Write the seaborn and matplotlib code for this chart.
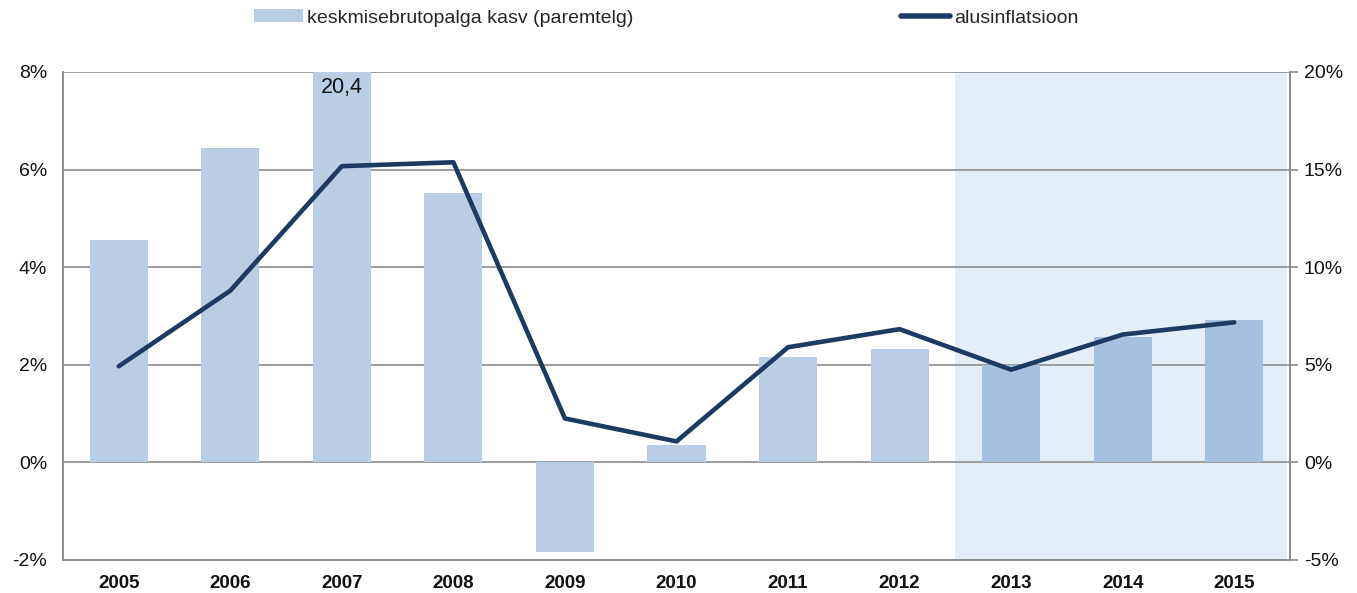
import matplotlib
matplotlib.use("Agg")
import matplotlib.pyplot as plt
import seaborn as sns
import numpy as np
import pandas as pd
from matplotlib.patches import Patch
from matplotlib.lines import Line2D
from matplotlib.ticker import FuncFormatter

years = ["2005", "2006", "2007", "2008", "2009", "2010", "2011", "2012", "2013", "2014", "2015"]
wage_growth = [11.4, 16.1, 20.4, 13.8, -4.6, 0.9, 5.4, 5.8, 5.0, 6.4, 7.3]   # right axis
core_inflation = [1.97, 3.52, 6.07, 6.15, 0.90, 0.43, 2.36, 2.73, 1.90, 2.62, 2.87]  # left axis
forecast_years = ["2013", "2014", "2015"]
bar_label = "keskmisebrutopalga kasv (paremtelg)"
line_label = "alusinflatsioon"
left_ticks = [-2, 0, 2, 4, 6, 8]
right_ticks = [-5, 0, 5, 10, 15, 20]

sns.set_theme(style="white")
plt.rcParams['font.family'] = ['Liberation Sans', 'DejaVu Sans']

bar_col = "#b9cde5"
bar_fc_col = "#a6c1e0"
line_col = "#1d3a62"
grid_col = "#8c8c8c"
txt_col = "#111111"

fig = plt.figure(figsize=(13.57, 5.93), dpi=100)
ax = fig.add_axes([63/1357, 1-560/593, (1290-63)/1357, (560-72)/593])

df = pd.DataFrame({"year": years, "wage": wage_growth})
palette = {y: (bar_fc_col if y in forecast_years else bar_col) for y in years}

ax.axvspan(years.index(forecast_years[0]) - 0.5, len(years) - 0.53, color="#e4eef8", zorder=0, lw=0)
sns.barplot(data=df, x="year", y="wage", hue="year", palette=palette, legend=False,
            width=0.52, saturation=1, ax=ax, zorder=2, linewidth=0, edgecolor="none")
ax.set_xlim(-0.5, len(years) - 0.5)
ax.set_ylim(right_ticks[0], right_ticks[-1])
ax.set_xlabel("")
ax.set_ylabel("")
ax.grid(axis="y", color=grid_col, lw=1.2)
ax.set_axisbelow(True)

# value label for the clipped bar
i07 = years.index("2007")
ax.text(i07, right_ticks[-1] - 0.25, f"{wage_growth[i07]:.1f}".replace(".", ","),
        ha="center", va="top", fontsize=15.5, color=txt_col, zorder=5)

ax2 = ax.twinx()
sns.lineplot(x=np.arange(len(years)), y=core_inflation, color=line_col, lw=3.3, ax=ax2, zorder=5)
ax2.set_ylim(left_ticks[0], left_ticks[-1])
ax2.set_yticks(left_ticks)
ax2.yaxis.tick_left()
ax2.yaxis.set_major_formatter(FuncFormatter(lambda v, p: f"{v:.0f}%"))
ax2.tick_params(axis="y", left=False, right=False, labelleft=True, labelright=False,
                length=0, labelsize=14, pad=11.5, labelcolor=txt_col)
ax2.set_xlim(-0.5, len(years) - 0.5)
ax2.set_ylabel("")

# right axis (bars) formatting after twinx
ax.set_yticks(right_ticks)
ax.yaxis.tick_right()
ax.yaxis.set_major_formatter(FuncFormatter(lambda v, p: f"{v:.0f}%"))
ax.tick_params(axis="y", which="major", left=False, right=True, labelleft=False, labelright=True,
               length=6, width=1.2, color=grid_col, labelsize=14, pad=4, labelcolor=txt_col)
ax.tick_params(axis="x", length=0, labelsize=13.5, pad=11, labelcolor=txt_col)
for lab in ax.get_xticklabels():
    lab.set_fontweight("bold")

for a in (ax, ax2):
    for s in ["top"]:
        a.spines[s].set_visible(False)
    for s in ["left", "right", "bottom"]:
        a.spines[s].set_visible(True)
        a.spines[s].set_color(grid_col)
        a.spines[s].set_linewidth(1.2)

handles = [Patch(facecolor=bar_col, edgecolor="none"), Line2D([0], [0], color=line_col, lw=4)]
fig.legend(handles, [bar_label, line_label], loc="center", bbox_to_anchor=(0.491, 1-18/593),
           ncol=2, frameon=False, fontsize=14, handlelength=2.5, handleheight=0.6,
           handletextpad=0.2, columnspacing=13.8)

fig.savefig("out.png", dpi=100)
